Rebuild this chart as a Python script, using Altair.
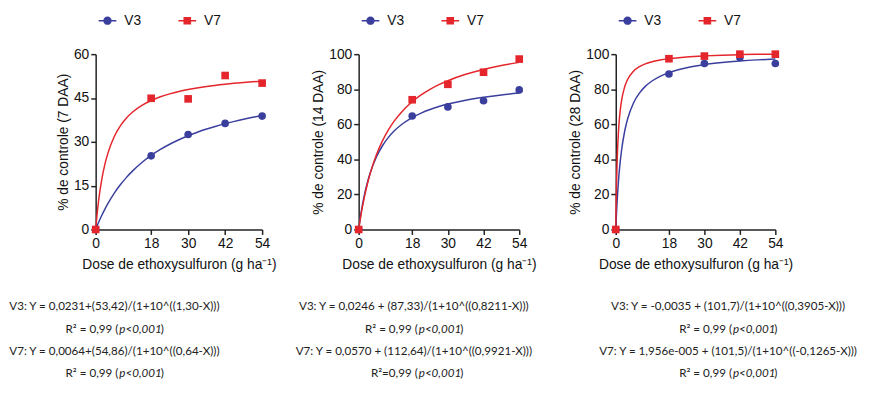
import altair as alt
import pandas as pd

# ---------------- data ----------------
doses = [0, 18, 30, 42, 54]
series = ["V3", "V7"]

p1_v3 = [0, 25.2, 32.5, 36.3, 38.8]
p1_v7 = [0, 44.9, 44.7, 52.7, 50.1]
p2_v3 = [0, 64.7, 69.9, 73.4, 79.6]
p2_v7 = [0, 74.0, 82.8, 89.7, 97.2]
p3_v3 = [0, 88.7, 94.7, 98.1, 94.7]
p3_v7 = [0, 97.4, 98.9, 100.0, 100.0]

# fitted curves
c1_v3_x = [0, 1, 2, 3, 4, 6, 8, 10, 12, 15, 18, 21, 24, 27, 30, 33, 36, 39, 42, 45, 48, 51, 54]
c1_v3_y = [0.02, 2.55, 4.87, 6.98, 8.92, 12.35, 15.29, 17.84, 20.06, 22.93, 25.34, 27.39, 29.17,
           30.72, 32.08, 33.29, 34.37, 35.34, 36.22, 37.01, 37.74, 38.40, 39.01]
c1_v7_x = [0, 0.5, 1, 2, 3, 4, 6, 8, 10, 12, 15, 18, 21, 24, 27, 30, 36, 42, 48, 54]
c1_v7_y = [0, 5.64, 10.23, 17.24, 22.35, 26.23, 31.76, 35.49, 38.19, 40.23, 42.49, 44.15, 45.42,
           46.42, 47.23, 47.89, 48.93, 49.69, 50.29, 50.76]
c2_x = [0, 0.5, 1, 2, 3, 4, 6, 8, 10, 12, 15, 18, 21, 24, 27, 30, 36, 42, 48, 54]
c2_v3_y = [0, 6.13, 11.45, 20.25, 27.22, 32.88, 41.51, 47.77, 52.53, 56.27, 60.58, 63.84, 66.39,
           68.44, 70.13, 71.53, 73.76, 75.43, 76.74, 77.79]
c2_v7_y = [0, 5.46, 10.41, 19.06, 26.36, 32.60, 42.72, 50.57, 56.83, 61.95, 68.07, 72.88, 76.75,
           79.93, 82.60, 84.86, 88.50, 91.29, 93.51, 95.31]
c3_v3_x = [0, 0.25, 0.5, 1, 1.5, 2, 3, 4, 6, 8, 10, 12, 15, 18, 24, 30, 36, 42, 48, 54]
c3_v3_y = [0, 9.39, 17.19, 29.41, 38.54, 45.63, 55.90, 62.99, 72.14, 77.80, 81.63, 84.41, 87.38,
           89.48, 92.25, 94.0, 95.2, 96.08, 96.75, 97.27]
c3_v7_x = [0, 0.1, 0.25, 0.5, 1, 1.5, 2, 3, 4, 6, 8, 10, 12, 15, 18, 24, 30, 36, 42, 48, 54]
c3_v7_y = [0, 11.98, 25.45, 40.69, 58.09, 67.75, 73.89, 81.26, 85.52, 90.26, 92.83, 94.44, 95.55,
           96.68, 97.45, 98.44, 99.03, 99.44, 99.73, 99.94, 100.0]

y_titles = ["% de controle (7 DAA)", "% de controle (14 DAA)", "% de controle (28 DAA)"]
y_max = [60, 100, 100]
y_ticks = [[0, 15, 30, 45, 60], [0, 20, 40, 60, 80, 100], [0, 20, 40, 60, 80, 100]]
x_title = "Dose de ethoxysulfuron (g ha\u207b\u00b9)"

eq_v3 = ["V3: Y = 0,0231+(53,42)/(1+10^((1,30-X)))",
         "V3: Y = 0,0246 + (87,33)/(1+10^((0,8211-X)))",
         "V3: Y = -0,0035 + (101,7)/(1+10^((0,3905-X)))"]
eq_v7 = ["V7: Y = 0,0064+(54,86)/(1+10^((0,64-X)))",
         "V7: Y = 0,0570 + (112,64)/(1+10^((0,9921-X)))",
         "V7: Y = 1,956e-005 + (101,5)/(1+10^((-0,1265-X)))"]
r2_v3 = ["R\u00b2 = 0,99 (", "R\u00b2 = 0,99 (", "R\u00b2 = 0,99 ("]
r2_v7 = ["R\u00b2 = 0,99 (", "R\u00b2=0,99 (", "R\u00b2 = 0,99 ("]
p_text = "p<0,001"

BLUE = "#3a3f9d"
RED = "#e4262c"
FONT = "Liberation Sans"
EQFONT = "Lato"

# legend symbols: marker with a line through it
LEG_CIRCLE = "M-1.8,0H1.8M0.7,0A0.7,0.7,0,1,1,-0.7,0A0.7,0.7,0,1,1,0.7,0Z"
LEG_SQUARE = "M-1.8,0H1.8M-0.62,-0.62H0.62V0.62H-0.62Z"

widths = [169, 163, 162]
H = 178
eq_cx = [19, 56, 114]


def panel(i, pts3, pts7, cx3, cy3, cx7, cy7):
    pts = pd.DataFrame({
        "dose": doses + doses,
        "val": pts3 + pts7,
        "var": ["V3"] * len(doses) + ["V7"] * len(doses),
    })
    crv = pd.DataFrame({
        "dose": cx3 + cx7,
        "val": cy3 + cy7,
        "var": ["V3"] * len(cx3) + ["V7"] * len(cx7),
    })
    leg = pd.DataFrame({"leg": series})
    xs = alt.Scale(domain=[0, 54], nice=False, zero=False)
    ys = alt.Scale(domain=[0, y_max[i]], nice=False)
    cscale = alt.Scale(domain=series, range=[BLUE, RED])
    xax = alt.X("dose:Q", scale=xs,
                axis=alt.Axis(values=doses, tickCount=len(doses), title=x_title,
                              labelFlush=False, labelOverlap=False))
    yax = alt.Y("val:Q", scale=ys,
                axis=alt.Axis(values=y_ticks[i], tickCount=len(y_ticks[i]), title=y_titles[i],
                              labelOverlap=False))
    lines = alt.Chart(crv).mark_line(strokeWidth=1.5, interpolate="monotone", clip=False).encode(
        x=xax, y=yax, color=alt.Color("var:N", scale=cscale, legend=None), detail="var:N")
    points = alt.Chart(pts).mark_point(filled=True, opacity=1, size=60, clip=False).encode(
        x="dose:Q", y="val:Q",
        color=alt.Color("var:N", scale=cscale, legend=None),
        shape=alt.Shape("var:N", scale=alt.Scale(domain=series, range=["circle", "square"]), legend=None))

    L = alt.Legend(title=None, orient="none", legendX=5, legendY=-41,
                   direction="horizontal", columnPadding=34,
                   labelFont=FONT, labelFontSize=14, labelColor="#111",
                   symbolSize=100, symbolStrokeWidth=1.5, symbolOpacity=1, labelOffset=10)
    legend_layer = alt.Chart(leg).mark_point(filled=True, opacity=0, size=100, strokeWidth=1.5).encode(
        x=alt.value(0), y=alt.value(0),
        fill=alt.Fill("leg:N", scale=cscale, legend=L),
        stroke=alt.Stroke("leg:N", scale=cscale, legend=L),
        shape=alt.Shape("leg:N", scale=alt.Scale(domain=series, range=[LEG_CIRCLE, LEG_SQUARE]), legend=L))

    cx = eq_cx[i]
    rows = [H + 78, H + 101, H + 123, H + 146]
    base = alt.Chart(pd.DataFrame({"k": [0]}))

    def txt(s, x, y, align="center", italic=False):
        return base.mark_text(text=s, font=EQFONT, fontSize=11.8, align=align, baseline="middle",
                              color="#222", fontStyle="italic" if italic else "normal").encode(
            x=alt.value(x), y=alt.value(y))

    texts = [
        txt(eq_v3[i], cx, rows[0]),
        txt(r2_v3[i], cx + 4, rows[1], "right"),
        txt(p_text, cx + 5, rows[1], "left", True),
        txt(")", cx + 47, rows[1], "left"),
        txt(eq_v7[i], cx, rows[2]),
        txt(r2_v7[i], cx + 4, rows[3], "right"),
        txt(p_text, cx + 5, rows[3], "left", True),
        txt(")", cx + 47, rows[3], "left"),
    ]
    return alt.layer(lines, points, legend_layer, *texts).resolve_scale(
        color="independent", shape="independent", fill="independent", stroke="independent").properties(
        width=widths[i], height=H)


p1 = panel(0, p1_v3, p1_v7, c1_v3_x, c1_v3_y, c1_v7_x, c1_v7_y)
p2 = panel(1, p2_v3, p2_v7, c2_x, c2_v3_y, c2_x, c2_v7_y)
p3 = panel(2, p3_v3, p3_v7, c3_v3_x, c3_v3_y, c3_v7_x, c3_v7_y)

chart = alt.hconcat(p1, p2, p3, spacing=98, bounds="flush").resolve_legend(
    color="independent", shape="independent", fill="independent", stroke="independent").resolve_scale(
    color="independent", shape="independent", fill="independent", stroke="independent").properties(
    padding={"left": 0, "top": 3, "right": 5, "bottom": 2}).configure_view(stroke=None).configure_axis(
    grid=False, domainColor="#222", domainWidth=1.5, tickColor="#222", tickWidth=1.5, tickSize=5,
    labelFont=FONT, labelFontSize=14, labelColor="#111", labelPadding=2,
    titleFont=FONT, titleFontSize=14, titleFontWeight="normal", titleColor="#111"
).configure_axisX(titlePadding=8).configure_axisY(titlePadding=3)

chart.save("out.html", embed_options={"renderer": "svg", "actions": False})
